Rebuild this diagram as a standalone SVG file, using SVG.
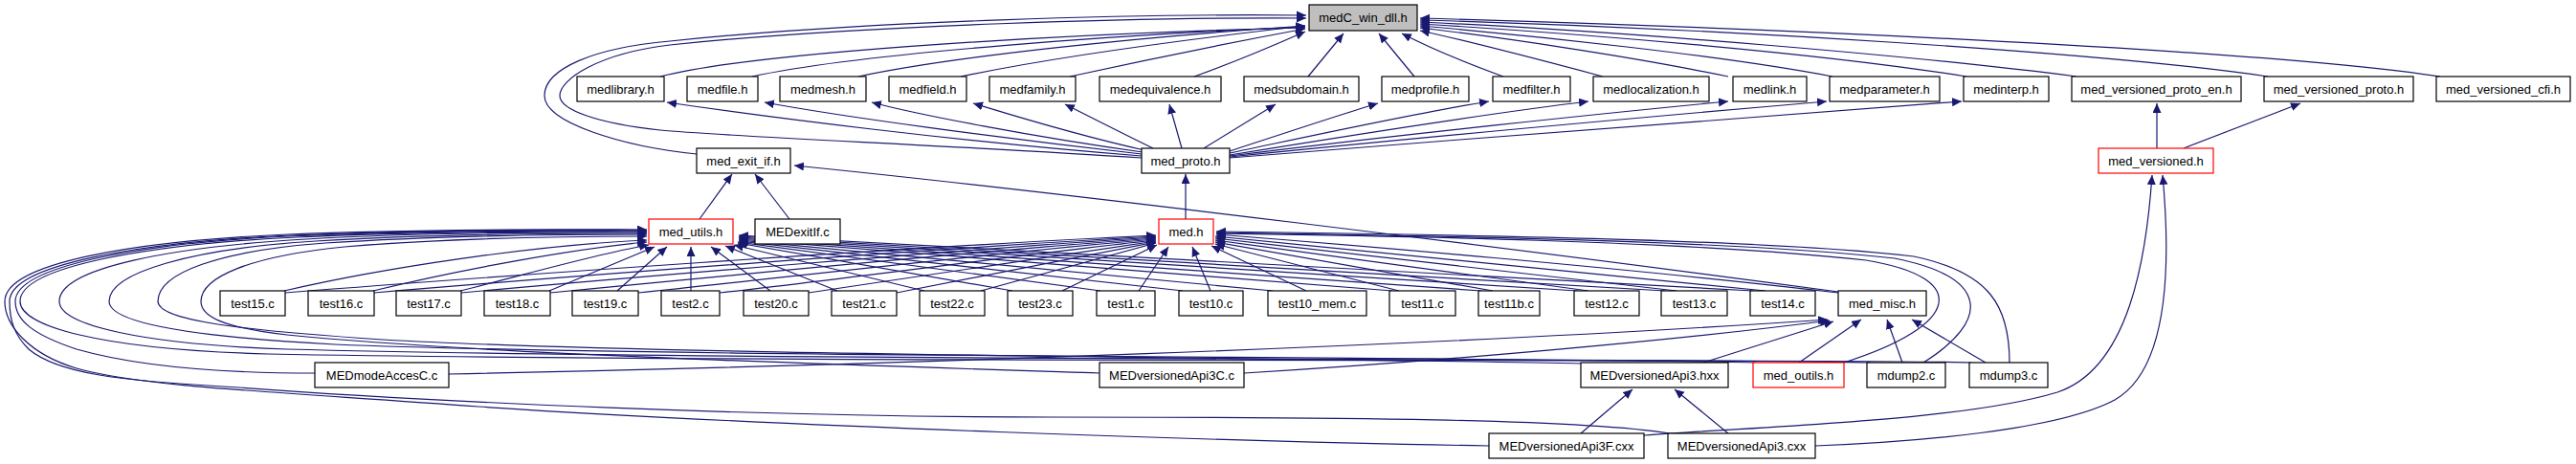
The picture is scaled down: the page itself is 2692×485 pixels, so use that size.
<svg xmlns="http://www.w3.org/2000/svg" width="2692" height="485" viewBox="0 0 2692 485">
<style>
.n rect{fill:#fff;stroke:#000;stroke-width:1.2}
.n.r rect{stroke:#ff0000}
.n.g rect{fill:#bfbfbf}
.n text{font-family:"Liberation Sans",Arial,sans-serif;font-size:13px;text-anchor:middle;fill:#000}
#edges path{fill:none;stroke:#191970;stroke-width:1.2;marker-end:url(#a)}
</style>
<defs>
<marker id="a" markerUnits="userSpaceOnUse" markerWidth="11" markerHeight="10" refX="10" refY="4.5" orient="auto"><path d="M0,0 L10,4.5 L0,9 z" fill="#191970"/></marker>
</defs>
<rect width="2692" height="485" fill="#fff"/>
<g id="edges">
<path d="M690,80 C800,52 1150,34 1364,29"/>
<path d="M786,80 C900,55 1180,36 1364,28"/>
<path d="M897,80 C1000,58 1200,38 1364,27"/>
<path d="M1004,80 C1100,60 1250,40 1364,27"/>
<path d="M1118,80 C1200,62 1300,42 1364,30"/>
<path d="M1248,80 C1290,65 1330,48 1364,33"/>
<path d="M1193,165 C1000,152 760,143 690,136 C625,129 585,115 585,100 C585,83 625,56 700,47 C900,26 1200,18 1365,19"/>
<path d="M728,161 C650,153 569,128 569,100 C569,72 620,50 700,43 C900,22 1200,14 1365,16"/>
<path d="M1367,80 L1404,35"/>
<path d="M1478,80 L1441,35"/>
<path d="M1571,80 C1530,65 1490,48 1465,35"/>
<path d="M1675,80 C1600,60 1530,42 1484,32"/>
<path d="M1806,80 C1700,58 1560,38 1484,29"/>
<path d="M1915,80 C1800,58 1600,37 1484,27"/>
<path d="M2055,80 C1900,55 1650,35 1484,25"/>
<path d="M2170,80 C2000,58 1700,33 1484,23"/>
<path d="M2370,80 C2200,55 1800,30 1484,21"/>
<path d="M2550,80 C2350,50 1800,28 1484,19"/>
<path d="M1193,163 C1000,148 800,122 697,107"/>
<path d="M1193,161 C1050,145 880,122 799,107"/>
<path d="M1194,159 C1080,143 960,120 911,107"/>
<path d="M1196,157 C1120,140 1050,118 1017,108"/>
<path d="M1205,155 C1170,138 1135,120 1113,109"/>
<path d="M1235,155 L1222,109"/>
<path d="M1258,155 L1333,109"/>
<path d="M1285,158 C1340,140 1400,120 1440,108"/>
<path d="M1285,160 C1380,140 1480,118 1556,106"/>
<path d="M1285,162 C1420,140 1560,118 1660,106"/>
<path d="M1285,163 C1450,142 1680,118 1806,106"/>
<path d="M1285,164 C1500,142 1770,118 1909,106"/>
<path d="M1285,165 C1550,144 1880,118 2050,106"/>
<path d="M1239,229 L1239,182"/>
<path d="M731,229 L765,182"/>
<path d="M825,229 L789,182"/>
<path d="M1921,305 C1600,262 1100,200 830,173"/>
<path d="M2254,155 L2254,108"/>
<path d="M2282,155 L2404,108"/>
<path d="M1718,455 C1850,445 2050,440 2150,410 C2225,385 2243,270 2249,183"/>
<path d="M1897,466 C2000,462 2150,450 2210,418 C2268,385 2268,270 2260,183"/>
<path d="M297,304 C400,280 560,256 676,251"/>
<path d="M390,304 C480,282 600,260 676,253"/>
<path d="M481,304 C560,284 630,264 678,256"/>
<path d="M574,304 L684,258"/>
<path d="M645,304 L697,258"/>
<path d="M722,304 L722,258"/>
<path d="M805,304 L743,258"/>
<path d="M875,304 L758,257"/>
<path d="M966,304 L767,256"/>
<path d="M1058,304 L771,254"/>
<path d="M1150,304 L771,253"/>
<path d="M1236,304 L772,252"/>
<path d="M1330,304 L772,251"/>
<path d="M1455,304 L772,250"/>
<path d="M1548,304 L772,249"/>
<path d="M1648,304 L772,248"/>
<path d="M1740,304 L772,247"/>
<path d="M1832,304 L772,246"/>
<path d="M298,306 C500,290 950,258 1208,246"/>
<path d="M391,306 C580,290 1000,258 1208,247"/>
<path d="M482,306 C660,290 1040,258 1208,248"/>
<path d="M575,306 C740,290 1060,259 1208,249"/>
<path d="M667,306 C820,290 1080,260 1208,250"/>
<path d="M752,306 C880,292 1100,262 1208,251"/>
<path d="M845,306 L1208,252"/>
<path d="M937,306 L1208,253"/>
<path d="M1025,304 L1208,254"/>
<path d="M1110,304 L1209,256"/>
<path d="M1190,304 L1221,258"/>
<path d="M1265,304 L1246,258"/>
<path d="M1365,304 L1266,257"/>
<path d="M1462,304 L1270,255"/>
<path d="M1560,304 L1270,253"/>
<path d="M1660,304 L1270,251"/>
<path d="M1752,304 L1270,249"/>
<path d="M1845,304 L1270,247"/>
<path d="M1921,306 C1700,280 1400,255 1271,245"/>
<path d="M1927,379 C2050,340 2060,290 1950,272 C1750,250 1400,246 1271,244"/>
<path d="M2010,379 C2080,335 2080,290 1980,270 C1800,250 1450,246 1271,243"/>
<path d="M2100,379 C2100,320 2080,285 2000,268 C1850,250 1500,245 1271,242"/>
<path d="M469,391 C900,382 1500,362 1910,334"/>
<path d="M1300,390 C1500,378 1750,356 1912,335"/>
<path d="M1780,379 L1916,336"/>
<path d="M1880,379 L1945,334"/>
<path d="M1988,379 L1972,334"/>
<path d="M2075,379 L1998,334"/>
<path d="M1652,453 L1706,407"/>
<path d="M1806,453 L1750,407"/>
<path d="M1149,390 C900,382 500,370 300,350 C230,342 210,330 210,315 C210,290 260,268 360,258 C480,248 600,247 676,247"/>
<path d="M1655,380 C1400,374 700,372 400,355 C250,345 165,335 165,315 C165,285 230,262 340,254 C460,246 600,245 676,245"/>
<path d="M1835,379 C1500,372 700,374 350,360 C200,352 114,338 114,315 C114,285 200,260 330,252 C460,244 600,244 676,244"/>
<path d="M1955,379 C1800,374 800,378 300,365 C150,360 62,340 62,315 C62,280 180,258 320,250 C460,242 600,243 676,243"/>
<path d="M2060,379 C1900,374 800,380 280,370 C100,365 21,340 21,315 C21,278 160,255 310,248 C460,241 600,242 676,242"/>
<path d="M329,390 C250,390 150,385 80,365 C35,350 16,335 16,315 C16,278 150,254 300,247 C450,240 600,241 676,241"/>
<path d="M1556,466 C1300,462 800,445 500,425 C300,410 150,405 80,385 C30,370 5,340 5,315 C5,275 140,252 300,245 C450,239 600,240 676,240"/>
<path d="M1745,453 C1650,438 1400,436 1100,436 C800,436 450,420 250,405 C120,398 60,390 30,365 C15,350 10,335 10,315 C10,277 145,253 305,246 C455,240 600,240 676,241"/>
</g>
<g id="n0" class="n g"><rect x="1368" y="5" width="113" height="27"/><text x="1424.5" y="23">medC_win_dll.h</text></g>
<g id="n1" class="n"><rect x="603" y="80" width="91" height="26"/><text x="648.5" y="97.5">medlibrary.h</text></g>
<g id="n2" class="n"><rect x="718" y="80" width="74" height="26"/><text x="755" y="97.5">medfile.h</text></g>
<g id="n3" class="n"><rect x="815" y="80" width="90" height="26"/><text x="860" y="97.5">medmesh.h</text></g>
<g id="n4" class="n"><rect x="929" y="80" width="81" height="26"/><text x="969.5" y="97.5">medfield.h</text></g>
<g id="n5" class="n"><rect x="1034" y="80" width="90" height="26"/><text x="1079" y="97.5">medfamily.h</text></g>
<g id="n6" class="n"><rect x="1149" y="80" width="127" height="26"/><text x="1212.5" y="97.5">medequivalence.h</text></g>
<g id="n7" class="n"><rect x="1300" y="80" width="120" height="26"/><text x="1360" y="97.5">medsubdomain.h</text></g>
<g id="n8" class="n"><rect x="1444" y="80" width="91" height="26"/><text x="1489.5" y="97.5">medprofile.h</text></g>
<g id="n9" class="n"><rect x="1560" y="80" width="81" height="26"/><text x="1600.5" y="97.5">medfilter.h</text></g>
<g id="n10" class="n"><rect x="1665" y="80" width="121" height="26"/><text x="1725.5" y="97.5">medlocalization.h</text></g>
<g id="n11" class="n"><rect x="1811" y="80" width="77" height="26"/><text x="1849.5" y="97.5">medlink.h</text></g>
<g id="n12" class="n"><rect x="1912" y="80" width="115" height="26"/><text x="1969.5" y="97.5">medparameter.h</text></g>
<g id="n13" class="n"><rect x="2052" y="80" width="89" height="26"/><text x="2096.5" y="97.5">medinterp.h</text></g>
<g id="n14" class="n"><rect x="2165" y="80" width="177" height="26"/><text x="2253.5" y="97.5">med_versioned_proto_en.h</text></g>
<g id="n15" class="n"><rect x="2366" y="80" width="156" height="26"/><text x="2444" y="97.5">med_versioned_proto.h</text></g>
<g id="n16" class="n"><rect x="2546" y="80" width="140" height="26"/><text x="2616" y="97.5">med_versioned_cfi.h</text></g>
<g id="n17" class="n"><rect x="728" y="155" width="98" height="26"/><text x="777" y="172.5">med_exit_if.h</text></g>
<g id="n18" class="n"><rect x="1193" y="155" width="92" height="26"/><text x="1239" y="172.5">med_proto.h</text></g>
<g id="n19" class="n r"><rect x="2193" y="155" width="120" height="26"/><text x="2253" y="172.5">med_versioned.h</text></g>
<g id="n20" class="n r"><rect x="678" y="229" width="88" height="26"/><text x="722" y="246.5">med_utils.h</text></g>
<g id="n21" class="n"><rect x="789" y="229" width="89" height="26"/><text x="833.5" y="246.5">MEDexitIf.c</text></g>
<g id="n22" class="n r"><rect x="1211" y="229" width="57" height="26"/><text x="1239.5" y="246.5">med.h</text></g>
<g id="n23" class="n"><rect x="230" y="304" width="68" height="26"/><text x="264" y="321.5">test15.c</text></g>
<g id="n24" class="n"><rect x="322" y="304" width="69" height="26"/><text x="356.5" y="321.5">test16.c</text></g>
<g id="n25" class="n"><rect x="414" y="304" width="68" height="26"/><text x="448" y="321.5">test17.c</text></g>
<g id="n26" class="n"><rect x="506" y="304" width="69" height="26"/><text x="540.5" y="321.5">test18.c</text></g>
<g id="n27" class="n"><rect x="598" y="304" width="69" height="26"/><text x="632.5" y="321.5">test19.c</text></g>
<g id="n28" class="n"><rect x="691" y="304" width="61" height="26"/><text x="721.5" y="321.5">test2.c</text></g>
<g id="n29" class="n"><rect x="777" y="304" width="68" height="26"/><text x="811" y="321.5">test20.c</text></g>
<g id="n30" class="n"><rect x="869" y="304" width="68" height="26"/><text x="903" y="321.5">test21.c</text></g>
<g id="n31" class="n"><rect x="961" y="304" width="68" height="26"/><text x="995" y="321.5">test22.c</text></g>
<g id="n32" class="n"><rect x="1053" y="304" width="68" height="26"/><text x="1087" y="321.5">test23.c</text></g>
<g id="n33" class="n"><rect x="1146" y="304" width="61" height="26"/><text x="1176.5" y="321.5">test1.c</text></g>
<g id="n34" class="n"><rect x="1232" y="304" width="67" height="26"/><text x="1265.5" y="321.5">test10.c</text></g>
<g id="n35" class="n"><rect x="1325" y="304" width="103" height="26"/><text x="1376.5" y="321.5">test10_mem.c</text></g>
<g id="n36" class="n"><rect x="1452" y="304" width="69" height="26"/><text x="1486.5" y="321.5">test11.c</text></g>
<g id="n37" class="n"><rect x="1545" y="304" width="64" height="26"/><text x="1577" y="321.5">test11b.c</text></g>
<g id="n38" class="n"><rect x="1645" y="304" width="68" height="26"/><text x="1679" y="321.5">test12.c</text></g>
<g id="n39" class="n"><rect x="1736" y="304" width="69" height="26"/><text x="1770.5" y="321.5">test13.c</text></g>
<g id="n40" class="n"><rect x="1829" y="304" width="68" height="26"/><text x="1863" y="321.5">test14.c</text></g>
<g id="n41" class="n"><rect x="1921" y="304" width="92" height="26"/><text x="1967" y="321.5">med_misc.h</text></g>
<g id="n42" class="n"><rect x="329" y="379" width="140" height="26"/><text x="399" y="396.5">MEDmodeAccesC.c</text></g>
<g id="n43" class="n"><rect x="1149" y="379" width="151" height="26"/><text x="1224.5" y="396.5">MEDversionedApi3C.c</text></g>
<g id="n44" class="n"><rect x="1652" y="379" width="154" height="26"/><text x="1729" y="396.5">MEDversionedApi3.hxx</text></g>
<g id="n45" class="n r"><rect x="1832" y="379" width="95" height="26"/><text x="1879.5" y="396.5">med_outils.h</text></g>
<g id="n46" class="n"><rect x="1951" y="379" width="82" height="26"/><text x="1992" y="396.5">mdump2.c</text></g>
<g id="n47" class="n"><rect x="2058" y="379" width="82" height="26"/><text x="2099" y="396.5">mdump3.c</text></g>
<g id="n48" class="n"><rect x="1556" y="453" width="162" height="26"/><text x="1637" y="470.5">MEDversionedApi3F.cxx</text></g>
<g id="n49" class="n"><rect x="1743" y="453" width="154" height="26"/><text x="1820" y="470.5">MEDversionedApi3.cxx</text></g>
</svg>
